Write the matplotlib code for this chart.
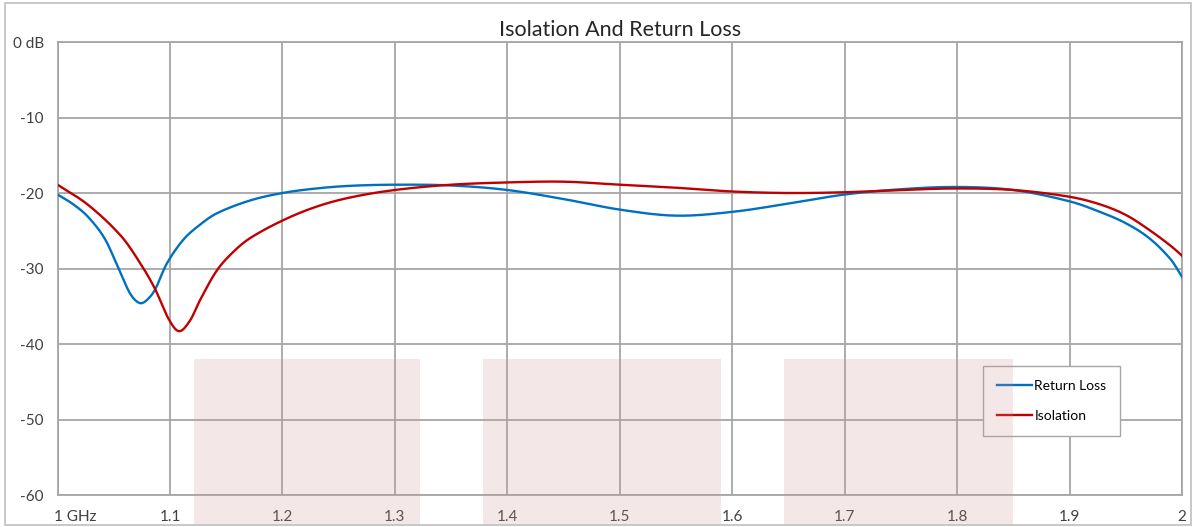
import numpy as np
import matplotlib
matplotlib.use("Agg")
import matplotlib.pyplot as plt
from matplotlib.patches import Rectangle
from matplotlib.transforms import ScaledTranslation

plt.rcParams['font.family'] = ['Lato', 'DejaVu Sans']

# Return Loss (dB) vs frequency (GHz)
rl_freq = [1.000, 1.014, 1.0274, 1.0422, 1.054, 1.063, 1.0685, 1.0742, 1.080, 1.0867,
           1.097, 1.1118, 1.1267, 1.1415, 1.171, 1.200, 1.230, 1.260, 1.300, 1.350,
           1.400, 1.450, 1.500, 1.550, 1.600, 1.650, 1.700, 1.750, 1.800, 1.850,
           1.900, 1.927, 1.950, 1.971, 1.990, 2.000]
rl_db = [-20.2, -21.5, -23.2, -26.1, -29.9, -32.9, -34.1, -34.6, -34.1, -32.8,
         -29.4, -26.2, -24.2, -22.7, -21.0, -20.0, -19.4, -19.05, -18.9, -19.0,
         -19.6, -20.8, -22.2, -23.0, -22.5, -21.4, -20.2, -19.5, -19.2, -19.6,
         -21.1, -22.5, -24.0, -26.0, -28.8, -31.1]

# Isolation (dB) vs frequency (GHz)
iso_freq = [1.000, 1.0274, 1.0571, 1.0748, 1.0867, 1.0985, 1.108, 1.1178, 1.1267, 1.1415,
            1.1563, 1.171, 1.2007, 1.2304, 1.260, 1.300, 1.350, 1.400, 1.450, 1.500,
            1.550, 1.600, 1.650, 1.700, 1.750, 1.800, 1.850, 1.900, 1.927, 1.950,
            1.971, 1.990, 2.000]
iso_db = [-18.9, -21.6, -25.8, -29.6, -32.7, -36.6, -38.3, -36.9, -34.2, -30.3,
          -27.8, -26.0, -23.6, -21.8, -20.6, -19.6, -18.9, -18.6, -18.5, -18.9,
          -19.3, -19.8, -20.0, -19.9, -19.6, -19.4, -19.6, -20.5, -21.5, -22.9,
          -24.9, -27.0, -28.3]

# shaded frequency bands (GHz)
band_start = [1.121, 1.378, 1.646]
band_stop = [1.322, 1.590, 1.850]
band_top = -42

x_ticks = [1.0, 1.1, 1.2, 1.3, 1.4, 1.5, 1.6, 1.7, 1.8, 1.9, 2.0]
x_labels = ['1 GHz', '1.1', '1.2', '1.3', '1.4', '1.5', '1.6', '1.7', '1.8', '1.9', '2']
y_ticks = [0, -10, -20, -30, -40, -50, -60]
y_labels = ['0 dB', '-10', '-20', '-30', '-40', '-50', '-60']


def smooth(x, y, n=30):
    """Cubic Hermite curve through the read points, slopes from central differences."""
    x = np.asarray(x, float)
    y = np.asarray(y, float)
    h = np.diff(x)
    m = np.empty_like(y)
    m[1:-1] = (y[2:] - y[:-2]) / (x[2:] - x[:-2])
    m[0] = (y[1] - y[0]) / h[0]
    m[-1] = (y[-1] - y[-2]) / h[-1]
    xs, ys = [], []
    t = np.linspace(0, 1, n, endpoint=False)
    h00 = 2 * t ** 3 - 3 * t ** 2 + 1
    h10 = t ** 3 - 2 * t ** 2 + t
    h01 = -2 * t ** 3 + 3 * t ** 2
    h11 = t ** 3 - t ** 2
    for k in range(len(x) - 1):
        xs.extend(x[k] + t * h[k])
        ys.extend(h00 * y[k] + h10 * h[k] * m[k] + h01 * y[k + 1] + h11 * h[k] * m[k + 1])
    xs.append(x[-1])
    ys.append(y[-1])
    return np.array(xs), np.array(ys)


fig = plt.figure(figsize=(11.96, 5.27), dpi=100)
ax = fig.add_axes([0.0481, 0.0607, 0.9402, 0.8596])

grid_col = '#a6a6a6'
ax.set_xlim(1.0, 2.0)
ax.set_ylim(-60, 0)
ax.set_xticks(x_ticks)
ax.set_xticklabels(x_labels)
ax.set_yticks(y_ticks)
ax.set_yticklabels(y_labels)
ax.grid(True, color=grid_col, linewidth=1.3)
ax.set_axisbelow(True)
for s in ax.spines.values():
    s.set_color(grid_col)
    s.set_linewidth(1.3)
ax.tick_params(length=0, labelsize=11, colors='#404040')
ax.tick_params(axis='x', pad=11)
ax.tick_params(axis='y', pad=10)
first = ax.get_xticklabels()[0]
first.set_horizontalalignment('left')
first.set_transform(first.get_transform() + ScaledTranslation(-0.04, 0, fig.dpi_scale_trans))

xs, ys = smooth(rl_freq, rl_db)
ax.plot(xs, ys, color='#0070C0', linewidth=1.7, label='Return Loss', zorder=3)
xs, ys = smooth(iso_freq, iso_db)
ax.plot(xs, ys, color='#C00000', linewidth=1.7, label='Isolation', zorder=3)

leg = ax.legend(loc='upper left', bbox_to_anchor=(0.823, 0.284), frameon=True,
                fancybox=False, edgecolor=grid_col, facecolor='white', framealpha=1,
                fontsize=10, handlelength=2.5, handletextpad=0.2, labelspacing=1.3,
                borderpad=1.0, borderaxespad=0)
leg.get_frame().set_linewidth(1.0)
leg.set_zorder(5)

# shaded bands drawn over everything, extending below the axis
for x0, x1 in zip(band_start, band_stop):
    ax.add_patch(Rectangle((x0, -64), x1 - x0, band_top + 64, facecolor=(0.80, 0.58, 0.58),
                           alpha=0.22, edgecolor='none', clip_on=False, zorder=6))

ax.set_title('Isolation And Return Loss', fontsize=15.5, color='#262626', pad=4)

fig.add_artist(Rectangle((0.004, 0.004), 0.992, 0.99, transform=fig.transFigure,
                         fill=False, edgecolor='#bfbfbf', linewidth=1.2))

fig.savefig('out.png', dpi=100)
